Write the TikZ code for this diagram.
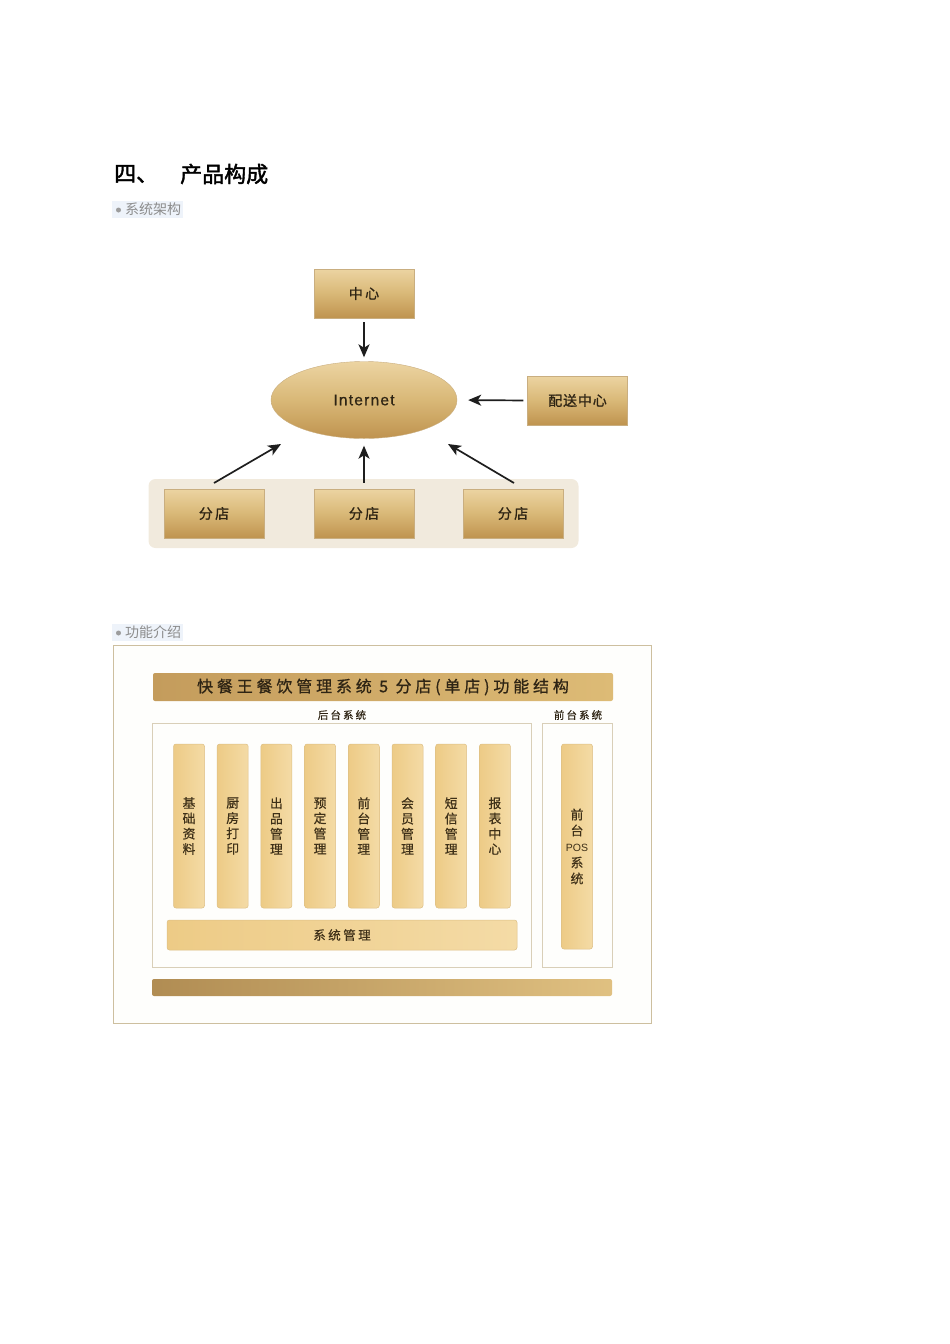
\documentclass[tikz,border=0pt]{standalone}
\usepackage{fontspec}
\setmainfont{Liberation Sans}
\newfontfamily\cjk{Noto Sans CJK SC}
\newfontfamily\cjkm[FakeBold=0.6]{Noto Sans CJK SC}
\newfontfamily\cjkb[FakeBold=1.0]{Noto Sans CJK SC}
\newfontfamily\cjkh[FakeBold=1.8]{Noto Sans CJK SC}
\newfontfamily\cjksp[LetterSpace=20,FakeBold=0.4]{Noto Sans CJK SC}
\newfontfamily\cjkspb[LetterSpace=24,FakeBold=0.8]{Noto Sans CJK SC}
\newfontfamily\cjkbsp[LetterSpace=6,FakeBold=1.0]{Noto Sans CJK SC}
\newfontfamily\netfont[LetterSpace=8,FakeBold=0.6]{Liberation Sans}
\usetikzlibrary{shapes.geometric,arrows.meta}
\definecolor{boxtop}{HTML}{ECD4A2}
\definecolor{boxmid}{HTML}{D9B877}
\definecolor{boxbot}{HTML}{BF934F}
\definecolor{boxedge}{HTML}{C9AE80}
\definecolor{boxtext}{HTML}{2E2414}
\definecolor{panel}{HTML}{F1EADD}
\definecolor{barl}{HTML}{EDCB86}
\definecolor{barr}{HTML}{F4DBA6}
\definecolor{baredge}{HTML}{DDBF85}
\definecolor{bartext}{HTML}{3E3018}
\definecolor{frame}{HTML}{CDBF9F}
\definecolor{inframe}{HTML}{D9CFB8}
\definecolor{titl}{HTML}{C49C5C}
\definecolor{titr}{HTML}{DDBB76}
\definecolor{graytext}{HTML}{8C8C8C}
\definecolor{hl}{HTML}{EEF3FA}
\definecolor{arr}{HTML}{1E1E1E}
\tikzset{
  goldbox/.style={rectangle, minimum width=100pt, minimum height=49pt, inner sep=0pt,
    top color=boxtop, bottom color=boxbot, middle color=boxmid, draw=boxedge, line width=0.4pt,
    font=\cjkbsp\fontsize{14}{14}\selectfont, text=boxtext},
  vbar/.style={rectangle, rounded corners=2.5pt, minimum width=31pt, minimum height=164pt, inner sep=0pt,
    left color=barl, right color=barr, draw=baredge, line width=0.5pt,
    font=\cjkm\fontsize{12.8}{15.3}\selectfont, text=bartext, align=center},
  flow/.style={-{Stealth[length=13pt,width=11pt,inset=3.5pt]}, line width=1.7pt, draw=arr},
  seclabel/.style={font=\cjk\fontsize{14}{14}\selectfont, text=graytext, fill=hl, inner xsep=2pt, inner ysep=2pt, anchor=west},
  secdot/.style={circle, fill=graytext!85, minimum size=5pt, inner sep=0pt},
}
\begin{document}
\begin{tikzpicture}[x=1pt,y=-1pt]
\useasboundingbox (0,0) rectangle (950,1344);
% heading
\node[anchor=west, inner sep=0pt, font=\cjkh\fontsize{22}{22}\selectfont] (h1) at (114,174) {四、};
\node[anchor=west, inner sep=0pt, font=\cjkh\fontsize{22}{22}\selectfont] (h2) at (180,174) {产品构成};
\node[seclabel] (s1) at (112,209.5) {\hspace{11pt}系统架构};
\node[secdot] (d1) at (118.5,210) {};
% architecture
\node[goldbox] (center) at (364,293.5) {中\,心};
\node[ellipse, minimum width=186pt, minimum height=77pt, inner sep=0pt,
  top color=boxtop, bottom color=boxbot, middle color=boxmid, draw=boxedge, line width=0.4pt,
  font=\netfont\fontsize{15.5}{15.5}\selectfont, text=boxtext] (net) at (364,400) {Internet};
\node[goldbox] (dist) at (577.5,400.5) {配送中心};
\node[fill=panel, rounded corners=7pt, minimum width=430pt, minimum height=69pt, inner sep=0pt] (panel) at (363.5,513.5) {};
\node[goldbox] (b1) at (214,513.5) {分\,店};
\node[goldbox] (b2) at (364,513.5) {分\,店};
\node[goldbox] (b3) at (513,513.5) {分\,店};
\coordinate (e1) at (281,444);
\coordinate (e3) at (448,444);
\coordinate (s1a) at (214,483);
\coordinate (s3a) at (514,483);
\draw[flow, shorten <=4pt, shorten >=4pt] (center.south) -- (net.north);
\draw[flow, shorten <=4pt, shorten >=11pt] (dist.west) -- (net.east);
\draw[flow] (s1a) -- (e1);
\draw[flow, shorten <=6pt, shorten >=7pt] (b2.north) -- (net.south);
\draw[flow] (s3a) -- (e3);
% function section
\node[seclabel] (s2) at (112,632.5) {\hspace{11pt}功能介绍};
\node[secdot] (d2) at (118.5,633) {};
\node[draw=frame, fill=white!97!boxtop, line width=0.8pt, minimum width=538pt, minimum height=378pt, inner sep=0pt] (outer) at (382,834) {};
\node[left color=titl, right color=titr, rounded corners=2pt, minimum width=460pt, minimum height=28pt, inner sep=0pt,
  font=\cjkspb\fontsize{16}{16}\selectfont, text=boxtext] (title) at (383,687) {快餐王餐饮管理系统 5 分店(单店)功能结构};
\node[font=\cjksp\fontsize{10.5}{10.5}\selectfont, text=boxtext, inner sep=0pt] (back) at (342,715) {后台系统};
\node[font=\cjksp\fontsize{10.5}{10.5}\selectfont, text=boxtext, inner sep=0pt] (front) at (578,715) {前台系统};
\node[draw=inframe, line width=1pt, minimum width=379pt, minimum height=244pt, inner sep=0pt] (lframe) at (341.5,845) {};
\node[draw=inframe, line width=1pt, minimum width=70pt, minimum height=244pt, inner sep=0pt] (rframe) at (577,845) {};
\node[vbar] (v1) at (189,826) {基\\础\\资\\料};
\node[vbar] (v2) at (232.7,826) {厨\\房\\打\\印};
\node[vbar] (v3) at (276.4,826) {出\\品\\管\\理};
\node[vbar] (v4) at (320.1,826) {预\\定\\管\\理};
\node[vbar] (v5) at (363.8,826) {前\\台\\管\\理};
\node[vbar] (v6) at (407.5,826) {会\\员\\管\\理};
\node[vbar] (v7) at (451.2,826) {短\\信\\管\\理};
\node[vbar] (v8) at (494.9,826) {报\\表\\中\\心};
\node[vbar, minimum width=350pt, minimum height=30pt, font=\cjksp\fontsize{12.5}{12.5}\selectfont] (sys) at (342,935) {系统管理};
\node[vbar, minimum height=205pt, font=\cjkm\fontsize{12.8}{16}\selectfont] (pos) at (577,846.5) {前\\台\\{\fontsize{10.5}{10.5}\selectfont\rmfamily POS}\\系\\统};
\node[left color=titl!90!black, right color=titr!92!white, rounded corners=2pt, minimum width=460pt, minimum height=17pt, inner sep=0pt] (bottom) at (382,987.5) {};
\end{tikzpicture}
\end{document}
